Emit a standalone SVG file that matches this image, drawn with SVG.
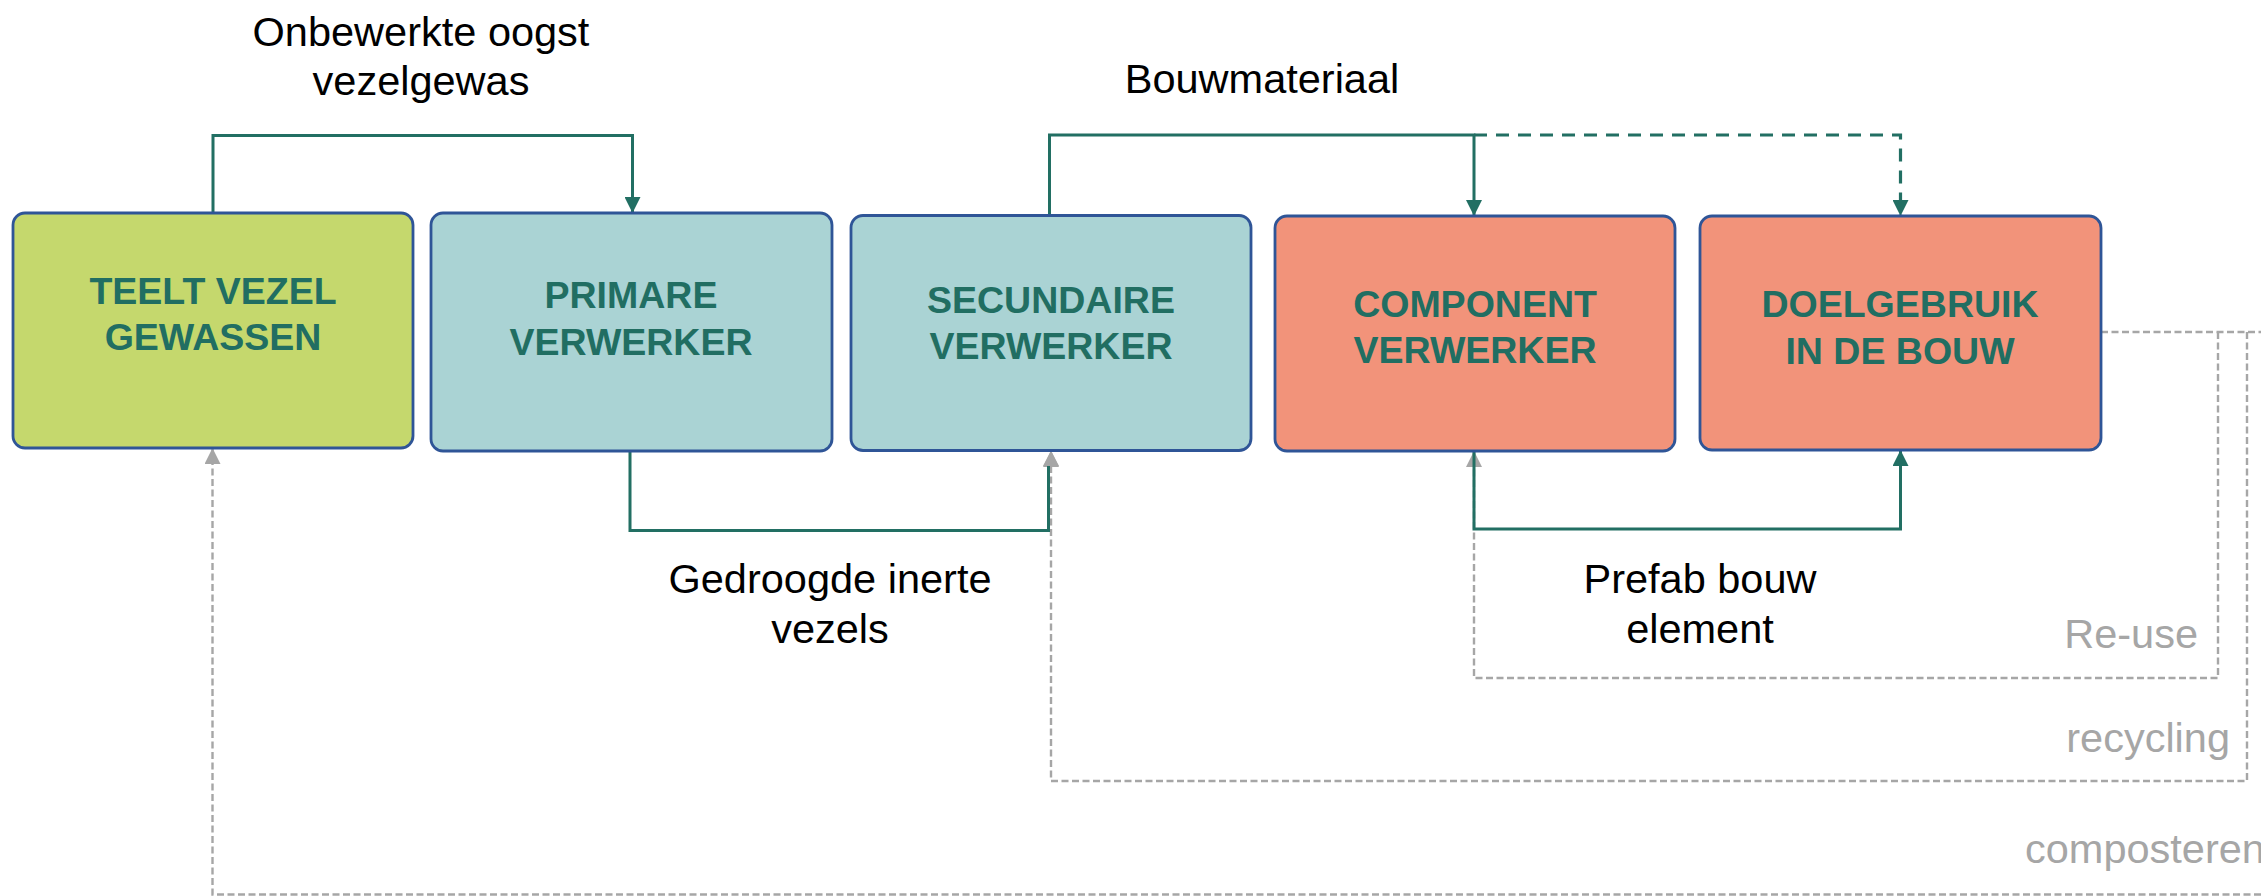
<svg xmlns="http://www.w3.org/2000/svg" width="2261" height="896" viewBox="0 0 2261 896">
  <style>
    .box { stroke: #2F5597; stroke-width: 2.8; }
    .green { fill: #C5D86D; }
    .blue { fill: #AAD3D4; }
    .salmon { fill: #F2937A; }
    .nodetxt { font-family: "Liberation Sans", Arial, sans-serif; font-weight: bold; font-size: 37.5px; fill: #216E62; text-anchor: middle; }
    .lbl { font-family: "Liberation Sans", Arial, sans-serif; font-size: 41.5px; fill: #000; text-anchor: middle; }
    .glbl { font-family: "Liberation Sans", Arial, sans-serif; font-size: 41.5px; fill: #A6A6A6; }
    .flow { fill: none; stroke: #226F63; stroke-width: 3; }
    .flow-dash { fill: none; stroke: #226F63; stroke-width: 3.2; stroke-dasharray: 13 9; }
    .loop { fill: none; stroke: #A6A6A6; stroke-width: 2.4; stroke-dasharray: 7 3.5; }
  </style>
  <defs>
    <marker id="arrTeal" markerUnits="userSpaceOnUse" markerWidth="16" markerHeight="16" viewBox="0 0 16 16" refX="15" refY="8" orient="auto">
      <path d="M0,0 L16,8 L0,16 Z" fill="#226F63"/>
    </marker>
    <marker id="arrGray" markerUnits="userSpaceOnUse" markerWidth="16" markerHeight="16" viewBox="0 0 16 16" refX="15" refY="8" orient="auto">
      <path d="M0,0 L16,8 L0,16 Z" fill="#A6A6A6"/>
    </marker>
  </defs>

  <rect width="2261" height="896" fill="#FFFFFF"/>

  <!-- connectors -->
  <g id="connectors">
    <!-- circular return loops -->
    <path class="loop" d="M2101,332 H2261"/>
    <path class="loop" d="M2218,332 V678 H1474 V452" marker-end="url(#arrGray)"/>
    <path class="loop" d="M2247,332 V781 H1051 V452" marker-end="url(#arrGray)"/>
    <path class="loop" d="M2261,894.5 H212.5 V449" marker-end="url(#arrGray)"/>

    <!-- forward material flows -->
    <path class="flow" d="M213,213 V135.5 H632.5 V212" marker-end="url(#arrTeal)"/>
    <path class="flow" d="M630,452 V530.5 H1048.5 V466"/>
    <path class="flow" d="M1049.5,215 V135 H1474 V215" marker-end="url(#arrTeal)"/>
    <path class="flow-dash" d="M1474,135 H1900.5 V215" marker-end="url(#arrTeal)"/>
    <path class="flow" d="M1474,452 V529 H1900.5 V451" marker-end="url(#arrTeal)"/>
    <!-- recycling arrowhead sits on top of the fibre flow -->
    <path d="M1043,466 L1051,450.5 L1059,466 Z" fill="#A6A6A6"/>
  </g>

  <!-- nodes -->
  <g id="teelt">
    <rect class="box green" x="13" y="213" width="400" height="235" rx="12"/>
    <text class="nodetxt" x="213" y="304">TEELT VEZEL</text>
    <text class="nodetxt" x="213" y="350">GEWASSEN</text>
  </g>
  <g id="primair">
    <rect class="box blue" x="431" y="213" width="401" height="238" rx="12"/>
    <text class="nodetxt" x="631" y="308">PRIMARE</text>
    <text class="nodetxt" x="631" y="355">VERWERKER</text>
  </g>
  <g id="secundair">
    <rect class="box blue" x="851" y="215.5" width="400" height="235" rx="12"/>
    <text class="nodetxt" x="1051" y="313">SECUNDAIRE</text>
    <text class="nodetxt" x="1051" y="359">VERWERKER</text>
  </g>
  <g id="component">
    <rect class="box salmon" x="1275" y="216" width="400" height="235" rx="12"/>
    <text class="nodetxt" x="1475" y="317">COMPONENT</text>
    <text class="nodetxt" x="1475" y="363">VERWERKER</text>
  </g>
  <g id="doelgebruik">
    <rect class="box salmon" x="1700" y="216" width="401" height="234" rx="12"/>
    <text class="nodetxt" x="1900" y="317">DOELGEBRUIK</text>
    <text class="nodetxt" x="1900" y="364">IN DE BOUW</text>
  </g>

  <!-- flow labels -->
  <g id="labels">
    <text class="lbl" x="421" y="46">Onbewerkte oogst</text>
    <text class="lbl" x="421" y="95">vezelgewas</text>
    <text class="lbl" x="1262" y="93">Bouwmateriaal</text>
    <text class="lbl" x="830" y="593">Gedroogde inerte</text>
    <text class="lbl" x="830" y="643">vezels</text>
    <text class="lbl" x="1700" y="593">Prefab bouw</text>
    <text class="lbl" x="1700" y="643">element</text>
    <text class="glbl" x="2198" y="648" text-anchor="end">Re-use</text>
    <text class="glbl" x="2230" y="752" text-anchor="end">recycling</text>
    <text class="glbl" x="2025" y="863">composteren</text>
  </g>
</svg>
